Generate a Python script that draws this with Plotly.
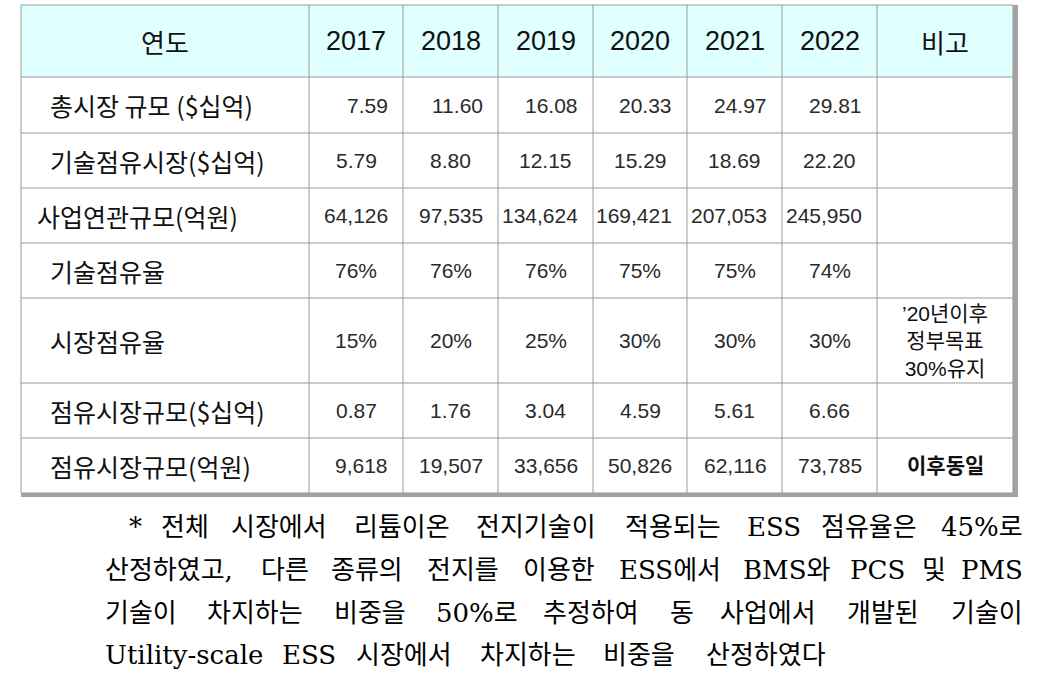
import plotly.graph_objects as go

# ---- data -------------------------------------------------------------
years = ["2017", "2018", "2019", "2020", "2021", "2022"]
row_labels = [
    "총시장 규모 ($십억)",
    "기술점유시장($십억)",
    "사업연관규모(억원)",
    "기술점유율",
    "시장점유율",
    "점유시장규모($십억)",
    "점유시장규모(억원)",
]
total_market = [7.59, 11.60, 16.08, 20.33, 24.97, 29.81]
tech_market = [5.79, 8.80, 12.15, 15.29, 18.69, 22.20]
related_scale = [64126, 97535, 134624, 169421, 207053, 245950]
tech_share = [76, 76, 76, 75, 75, 74]
market_share = [15, 20, 25, 30, 30, 30]
share_market_usd = [0.87, 1.76, 3.04, 4.59, 5.61, 6.66]
share_market_krw = [9618, 19507, 33656, 50826, 62116, 73785]
remarks = ["", "", "", "", "’20년이후<br>정부목표<br>30%유지", "", "이후동일"]

footnote_lines = [
    "* 전체 시장에서 리튬이온 전지기술이 적용되는 ESS 점유율은 45%로",
    "산정하였고, 다른 종류의 전지를 이용한 ESS에서 BMS와 PCS 및 PMS",
    "기술이 차지하는 비중을 50%로 추정하여 동 사업에서 개발된 기술이",
    "Utility-scale ESS 시장에서 차지하는 비중을 산정하였다",
]

table_rows = [
    [f"{v:.2f}" for v in total_market],
    [f"{v:.2f}" for v in tech_market],
    [f"{v:,}" for v in related_scale],
    [f"{v}%" for v in tech_share],
    [f"{v}%" for v in market_share],
    [f"{v:.2f}" for v in share_market_usd],
    [f"{v:,}" for v in share_market_krw],
]

# ---- layout constants -------------------------------------------------
W, H = 1040, 693
X0, Y0 = 21, 5
col_w = [288, 94, 95, 95, 94, 95, 95, 136]
row_h = [72, 56, 55, 55, 55, 85, 55, 55]
label_indent = [27, 27, 14, 27, 27, 27, 27]
value_align = ["right", "center", "right", "center", "center", "center", "right"]

x_edges = [X0]
for w in col_w:
    x_edges.append(x_edges[-1] + w)
y_edges = [Y0]
for h in row_h:
    y_edges.append(y_edges[-1] + h)

KR = "Noto Sans CJK KR"
NUM = "Liberation Sans, Noto Sans CJK KR"
GRID = "#9a9a9a"

shapes = [
    # shadow
    dict(type="rect", x0=X0, x1=x_edges[-1] + 5, y0=Y0, y1=y_edges[-1] + 4,
         fillcolor="#a3a3a3", line=dict(width=0)),
    dict(type="rect", x0=X0, x1=x_edges[-1], y0=Y0, y1=y_edges[-1],
         fillcolor="white", line=dict(width=0)),
    dict(type="rect", x0=X0, x1=x_edges[-1], y0=y_edges[0], y1=y_edges[1],
         fillcolor="#e0ffff", line=dict(width=0)),
]
for x in x_edges:
    shapes.append(dict(type="line", x0=x, x1=x, y0=y_edges[0], y1=y_edges[-1],
                       line=dict(color=GRID, width=1)))
for y in y_edges:
    shapes.append(dict(type="line", x0=x_edges[0], x1=x_edges[-1], y0=y, y1=y,
                       line=dict(color=GRID, width=1)))

annotations = []


def add_text(x, y, text, size, family=KR, anchor="center", color="#111", bold=False):
    annotations.append(dict(
        x=x, y=y, xref="x", yref="y", text=text, showarrow=False,
        xanchor=anchor, yanchor="middle",
        font=dict(family=family, size=size, color=color,
                  weight="bold" if bold else "normal"),
    ))


def col_center(i):
    return (x_edges[i] + x_edges[i + 1]) / 2


def row_center(j):
    return (y_edges[j] + y_edges[j + 1]) / 2


# header
add_text(col_center(0), row_center(0), "연도", 26)
for i, yr in enumerate(years):
    add_text(col_center(i + 1), row_center(0), yr, 27, family=NUM)
add_text(col_center(7), row_center(0), "비고", 26)

# body
for j, label in enumerate(row_labels):
    yc = row_center(j + 1)
    add_text(X0 + label_indent[j], yc, label, 25, anchor="left")
    for i, val in enumerate(table_rows[j]):
        if value_align[j] == "right":
            add_text(x_edges[i + 2] - 13, yc, val, 21, family=NUM, anchor="right", color="#2a2a2a")
        else:
            add_text(col_center(i + 1), yc, val, 21, family=NUM, color="#2a2a2a")
    if remarks[j]:
        add_text(col_center(7), yc, remarks[j], 21, family=NUM,
                 bold=(remarks[j] == "이후동일"))

# footnote, justified word by word
EM = {"*": 0.5, ",": 0.318, "%": 0.95, "-": 0.338, "E": 0.73, "S": 0.685,
      "B": 0.732, "M": 0.995, "P": 0.675, "C": 0.733, "U": 0.812, "t": 0.402,
      "i": 0.32, "l": 0.32, "y": 0.592, "s": 0.513, "c": 0.56, "a": 0.596,
      "e": 0.592}
FN_SIZE = 26
FN_FAMILY = "DejaVu Serif, Noto Sans CJK KR"


def text_width(s):
    w = 0.0
    for ch in s:
        if "\uac00" <= ch <= "\ud7a3":
            w += 1.0
        else:
            w += EM.get(ch, 0.636)
    return w * FN_SIZE


fn_start = [127, 103, 103, 103]
fn_end = [1025, 1025, 1025, 828]
fn_y = [527, 570, 613, 655]
for line, x_start, x_end, y in zip(footnote_lines, fn_start, fn_end, fn_y):
    words = line.split(" ")
    widths = [text_width(w) for w in words]
    gap = (x_end - x_start - sum(widths)) / (len(words) - 1)
    x = x_start
    for k, word in enumerate(words):
        if k == len(words) - 1:
            add_text(x_end, y, word, FN_SIZE, family=FN_FAMILY, anchor="right", color="#000")
        else:
            add_text(x, y, word, FN_SIZE, family=FN_FAMILY, anchor="left", color="#000")
        x += widths[k] + gap

fig = go.Figure()
fig.update_layout(
    width=W, height=H,
    margin=dict(l=0, r=0, t=0, b=0),
    paper_bgcolor="white", plot_bgcolor="white",
    xaxis=dict(range=[0, W], visible=False, fixedrange=True),
    yaxis=dict(range=[H, 0], visible=False, fixedrange=True),
    shapes=shapes,
    annotations=annotations,
    showlegend=False,
    hovermode=False,
)

fig.write_html("out.html", config={"displayModeBar": False},
               post_script="document.body.style.margin = '0';")
